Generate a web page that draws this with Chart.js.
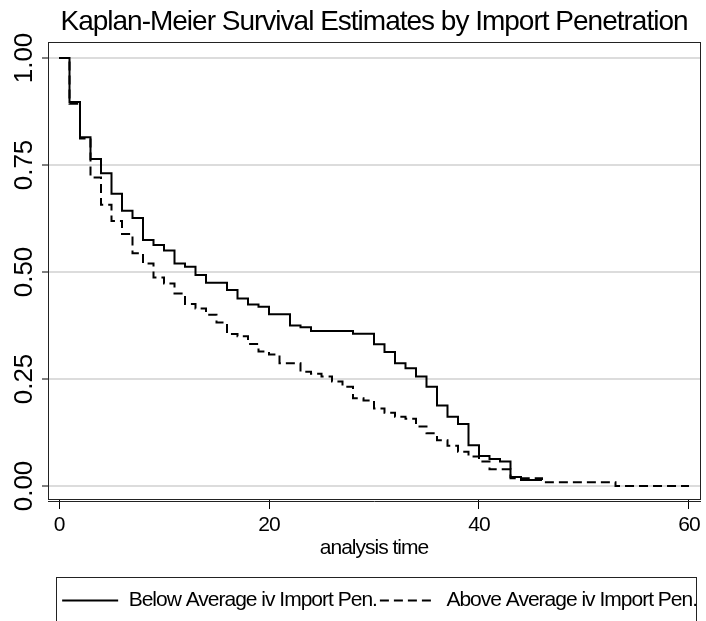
<!DOCTYPE html>
<html>
<head>
<meta charset="utf-8">
<script src="https://cdn.jsdelivr.net/npm/chart.js@4.4.0/dist/chart.umd.min.js"></script>
<style>
  html, body { margin: 0; padding: 0; background: #fff; }
</style>
</head>
<body>
<canvas id="kmChart" width="706" height="621"></canvas>
<script>
// Kaplan-Meier step values
const belowTime = [0, 1, 2, 3, 4, 5, 6, 7, 8, 9, 10, 11, 12, 13, 14, 16, 17, 18, 19, 20,
    22, 23, 24, 28, 30, 31, 32, 33, 34, 35, 36, 37, 38, 39, 40, 41, 42, 43, 44, 46];
const belowSurv = [1, 0.897, 0.815, 0.764, 0.731, 0.683, 0.643, 0.626, 0.575, 0.563,
    0.550, 0.520, 0.512, 0.493, 0.475, 0.458, 0.438, 0.424, 0.419, 0.401,
    0.375, 0.371, 0.362, 0.356, 0.331, 0.313, 0.287, 0.275, 0.256, 0.232,
    0.188, 0.162, 0.145, 0.095, 0.070, 0.063, 0.057, 0.021, 0.014, 0.014];

const aboveTime = [0, 1, 2, 3, 4, 5, 6, 7, 8, 9, 10, 11, 12, 13, 14, 15, 16, 17, 18, 19, 20, 21,
    23, 24, 25, 26, 27, 28, 29, 30, 31, 32, 33, 34, 35, 36, 37, 38, 39, 40, 41, 43, 46, 53, 60];
const aboveSurv = [1, 0.893, 0.812, 0.721, 0.657, 0.619, 0.589, 0.544, 0.520, 0.487,
    0.473, 0.450, 0.425, 0.415, 0.400, 0.382, 0.355, 0.350, 0.332, 0.314, 0.307, 0.287,
    0.267, 0.262, 0.256, 0.244, 0.232, 0.205, 0.200, 0.181, 0.171, 0.162, 0.157, 0.139,
    0.123, 0.107, 0.094, 0.080, 0.069, 0.057, 0.039, 0.018, 0.009, 0, 0];

const seriesNames = ['Below Average iv Import Pen.', 'Above Average iv Import Pen.'];
const xTicks = [0, 20, 40, 60];
const yTicks = [0, 0.25, 0.5, 0.75, 1];
const yTickLabels = ['0.00', '0.25', '0.50', '0.75', '1.00'];

const FONT = "'Liberation Sans', Arial, sans-serif";

Chart.defaults.color = '#000';

const toPoints = (xs, ys) => xs.map((x, i) => ({x: x, y: ys[i]}));

// the original text is set tight, so squeeze the letters a bit
const tightText = {
    id: 'tightText',
    beforeUpdate(chart) { chart.ctx.letterSpacing = '-1px'; },
    beforeDraw(chart) { chart.ctx.letterSpacing = '-1px'; }
};

// plot frame, legend frame and the rotated y labels
const stataFrame = {
    id: 'stataFrame',
    afterDraw(chart) {
        const {ctx, chartArea: a, scales: {y}, legend} = chart;
        ctx.save();
        ctx.strokeStyle = '#222';
        ctx.lineWidth = 1;
        ctx.strokeRect(a.left + 0.5, a.top + 0.5, a.right - a.left, a.bottom - a.top);
        ctx.beginPath();
        ctx.moveTo(a.left, a.bottom + 2.5);
        ctx.lineTo(a.right + 1, a.bottom + 2.5);
        ctx.stroke();
        ctx.strokeRect(a.left + 8.5, legend.top - 9.5, a.right - a.left - 12, 80);

        ctx.letterSpacing = '0px';
        ctx.font = '26px ' + FONT;
        ctx.fillStyle = '#000';
        ctx.textAlign = 'center';
        ctx.textBaseline = 'middle';
        yTicks.forEach((v, i) => {
            ctx.save();
            ctx.translate(25, y.getPixelForValue(v));
            ctx.rotate(-Math.PI / 2);
            ctx.fillText(yTickLabels[i], 0, 0);
            ctx.restore();
        });
        ctx.restore();
    }
};

const ctx = document.getElementById('kmChart').getContext('2d');
const kmChart = new Chart(ctx, {
    type: 'line',
    data: {
        datasets: [{
            label: seriesNames[0],
            data: toPoints(belowTime, belowSurv),
            borderColor: '#000',
            borderWidth: 2,
            stepped: true,
            pointRadius: 0,
            fill: false
        }, {
            label: seriesNames[1],
            data: toPoints(aboveTime, aboveSurv),
            borderColor: '#000',
            borderWidth: 2,
            borderDash: [9, 5],
            stepped: true,
            pointRadius: 0,
            fill: false
        }]
    },
    options: {
        responsive: false,
        animation: false,
        devicePixelRatio: 1,
        layout: {padding: {left: 0, right: 6, top: 0, bottom: 0}},
        scales: {
            x: {
                type: 'linear',
                min: -1.048,
                max: 61.048,
                afterBuildTicks: (scale) => { scale.ticks = xTicks.map(v => ({value: v})); },
                afterFit: (scale) => { scale.height = 88; },
                grid: {drawOnChartArea: false, color: '#000', tickLength: 10, lineWidth: 1},
                border: {display: false},
                ticks: {
                    font: {family: FONT, size: 21},
                    padding: 4,
                    maxRotation: 0,
                    callback: (v) => String(v)
                },
                title: {
                    display: true,
                    text: 'analysis time',
                    font: {family: FONT, size: 21},
                    padding: {top: 0, bottom: 26}
                }
            },
            y: {
                type: 'linear',
                min: -0.0304,
                max: 1.0374,
                afterBuildTicks: (scale) => { scale.ticks = yTicks.map(v => ({value: v})); },
                afterFit: (scale) => { scale.width = 48; },
                grid: {color: '#dcdcdc', lineWidth: 2, tickColor: '#000', tickLength: 6, tickWidth: 1},
                border: {display: false},
                ticks: {display: false}
            }
        },
        plugins: {
            title: {
                display: true,
                text: 'Kaplan-Meier Survival Estimates by Import Penetration',
                fullSize: false,
                font: {family: FONT, size: 28, weight: 'normal'},
                padding: {top: 5, bottom: 3.4}
            },
            legend: {
                position: 'bottom',
                align: 'end',
                fullSize: false,
                labels: {
                    usePointStyle: true,
                    pointStyle: 'line',
                    pointStyleWidth: 56,
                    padding: 3,
                    font: {family: FONT, size: 21},
                    generateLabels: (chart) => {
                        const items = Chart.defaults.plugins.legend.labels.generateLabels(chart);
                        items.forEach((item, i) => {
                            const ds = chart.data.datasets[i];
                            item.lineDash = ds.borderDash || [];
                            item.lineWidth = ds.borderWidth;
                        });
                        return items;
                    }
                }
            },
            tooltip: {enabled: false}
        }
    },
    plugins: [tightText, stataFrame]
});
</script>
</body>
</html>
